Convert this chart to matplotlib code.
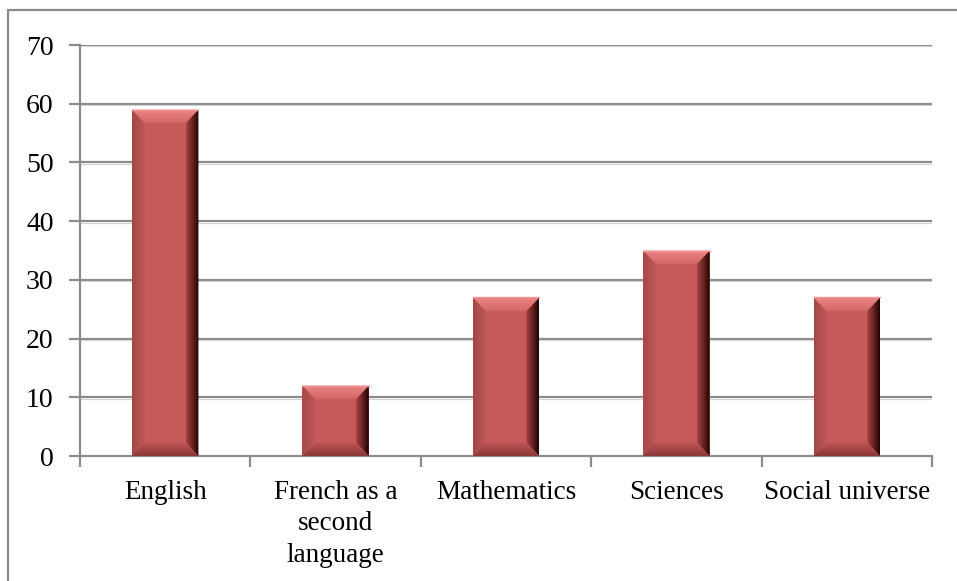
import numpy as np
import matplotlib.pyplot as plt
from matplotlib.patches import Polygon, Rectangle
from matplotlib.colors import LinearSegmentedColormap

categories = ["English", "French as a\nsecond\nlanguage", "Mathematics", "Sciences", "Social universe"]
values = [59, 12, 27, 35, 27]
yticks = [0, 10, 20, 30, 40, 50, 60, 70]

plt.rcParams['font.family'] = ['Liberation Serif', 'DejaVu Serif']

fig = plt.figure(figsize=(9.57, 5.81), dpi=100)
ax = fig.add_axes([80 / 957, 1 - 456 / 581, 852 / 957, 411 / 581])

# outer frame (left and top only visible)
fig.patches.append(Rectangle((8 / 957, -0.1), 1.2, 1.1 - 10 / 581, transform=fig.transFigure,
                             fill=False, edgecolor='#8a8a8e', lw=1.6, zorder=0))

grid_c = '#8c8c8c'
for y in yticks[1:]:
    ax.axhline(y, color=grid_c, lw=1.6, zorder=1)
    ax.axhline(y - 0.25, color='#d4d4d4', lw=0.8, zorder=1)

width = 0.39
bx = 0.075  # bevel width (category units)
by = 2.3    # bevel height (data units)
face = '#c65a5a'


def grad_fill(poly_xy, cmap, horizontal=True):
    poly = Polygon(poly_xy, closed=True, facecolor='none', edgecolor='none')
    ax.add_patch(poly)
    xs = [p[0] for p in poly_xy]
    ys = [p[1] for p in poly_xy]
    g = np.linspace(0, 1, 64)
    arr = g[None, :] if horizontal else g[:, None]
    im = ax.imshow(arr, cmap=cmap, extent=(min(xs), max(xs), min(ys), max(ys)),
                   origin='lower', aspect='auto', zorder=3, interpolation='bilinear')
    im.set_clip_path(poly)


right_cm = LinearSegmentedColormap.from_list('r', ['#a64444', '#6a2222', '#200404'])
left_cm = LinearSegmentedColormap.from_list('l', ['#a44646', '#c05858'])
top_cm = LinearSegmentedColormap.from_list('t', ['#d26666', '#ec8686'])
bot_cm = LinearSegmentedColormap.from_list('b', ['#8a3838', '#c05656'])

for i, v in enumerate(values):
    x0, x1 = i - width / 2, i + width / 2
    ax.bar(i, v, width=width, color=face, zorder=2, edgecolor='none')
    # bevels
    grad_fill([(x0, 0), (x0 + bx, by), (x0 + bx, v - by), (x0, v)], left_cm)
    grad_fill([(x1, 0), (x1 - bx, by), (x1 - bx, v - by), (x1, v)], right_cm)
    grad_fill([(x0, v), (x0 + bx, v - by), (x1 - bx, v - by), (x1, v)], top_cm, horizontal=False)
    grad_fill([(x0, 0), (x0 + bx, by), (x1 - bx, by), (x1, 0)], bot_cm, horizontal=False)
    ax.plot([x0, x1], [v, v], color='#f09696', lw=1, zorder=4)

ax.set_xlim(-0.5, len(categories) - 0.5)
ax.set_ylim(0, 70)
ax.set_yticks(yticks)
ax.set_yticklabels([str(t) for t in yticks], fontsize=20)
ax.set_xticks(np.arange(-0.5, len(categories)), labels=[''] * (len(categories) + 1))
ax.set_xticks(np.arange(len(categories)), labels=categories, minor=True)
ax.tick_params(axis='x', which='minor', length=0, labelsize=19.5, pad=17)
ax.tick_params(axis='x', which='major', length=8, width=1.6, color=grid_c)
ax.tick_params(axis='y', length=8, width=1.6, color=grid_c, pad=11)
for lab in ax.get_xticklabels(minor=True):
    lab.set_linespacing(1.35)

for s in ['top', 'right']:
    ax.spines[s].set_visible(False)
for s in ['left', 'bottom']:
    ax.spines[s].set_color(grid_c)
    ax.spines[s].set_linewidth(1.6)

fig.savefig('out.png', dpi=100)
